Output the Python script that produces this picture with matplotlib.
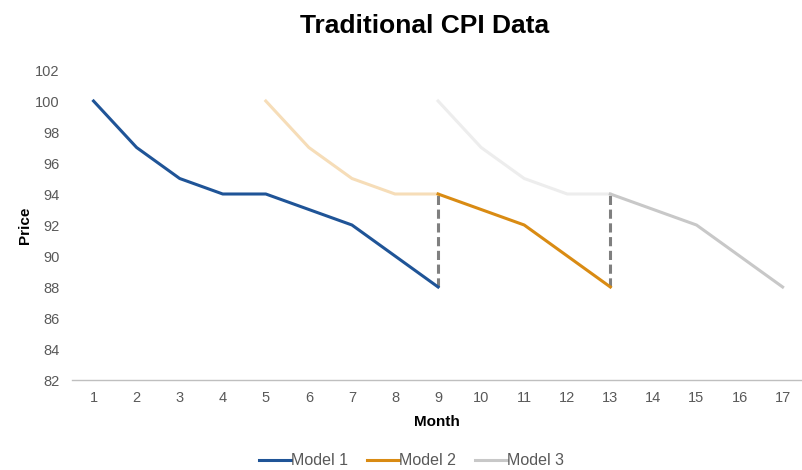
import matplotlib
matplotlib.use("Agg")
import matplotlib.pyplot as plt

plt.rcParams['font.family'] = ['Liberation Sans', 'DejaVu Sans']

months = list(range(1, 18))
model1_x = [1, 2, 3, 4, 5, 6, 7, 8, 9]
model1_y = [100, 97, 95, 94, 94, 93, 92, 90, 88]
model2_ghost_x = [5, 6, 7, 8, 9]
model2_ghost_y = [100, 97, 95, 94, 94]
model2_x = [9, 10, 11, 12, 13]
model2_y = [94, 93, 92, 90, 88]
model3_ghost_x = [9, 10, 11, 12, 13]
model3_ghost_y = [100, 97, 95, 94, 94]
model3_x = [13, 14, 15, 16, 17]
model3_y = [94, 93, 92, 90, 88]
drop_x = [9, 13]
drop_top = [94, 94]
drop_bottom = [88, 88]
yticks = list(range(82, 103, 2))

fig = plt.figure(figsize=(8.03, 4.70), dpi=100)
ax = fig.add_axes([72/803, 90/470, 730/803, 310/470])

c1 = '#1F5497'
c2 = '#D98B13'
c3 = '#C8C8C8'
ax.plot(model2_ghost_x, model2_ghost_y, color='#F6DDB8', lw=2.2, zorder=2)
ax.plot(model3_ghost_x, model3_ghost_y, color='#EDEDED', lw=2.2, zorder=2)
for x, t, b in zip(drop_x, drop_top, drop_bottom):
    ax.plot([x, x], [b, t], color='#7F7F7F', lw=2.2, ls=(0, (3, 1.5)), zorder=3)
l1, = ax.plot(model1_x, model1_y, color=c1, lw=2.2, zorder=4, label='Model 1')
l2, = ax.plot(model2_x, model2_y, color=c2, lw=2.2, zorder=4, label='Model 2')
l3, = ax.plot(model3_x, model3_y, color=c3, lw=2.2, zorder=4, label='Model 3')

ax.set_xlim(0.5, 17.45)
ax.set_ylim(82, 102)
ax.set_xticks(months)
ax.set_yticks(yticks)
ax.tick_params(axis='both', length=0, labelsize=10.5, colors='#595959', pad=8)
ax.tick_params(axis='y', pad=9)
for s in ['top', 'right', 'left']:
    ax.spines[s].set_visible(False)
ax.spines['bottom'].set_color('#BFBFBF')
ax.spines['bottom'].set_linewidth(1)

ax.set_xlabel('Month', fontsize=11, fontweight='bold', color='black', labelpad=7)
ax.set_ylabel('Price', fontsize=11, fontweight='bold', color='black', labelpad=2)
fig.text(0.529, 0.945, 'Traditional CPI Data', ha='center', va='center',
         fontsize=19, fontweight='bold')

fig.legend(handles=[l1, l2, l3], loc='center', bbox_to_anchor=(0.512, 0.02),
           ncol=3, frameon=False, fontsize=11.5, handlelength=2.0,
           handletextpad=0.0, columnspacing=1.2, labelcolor='#595959')

fig.savefig('out.png', dpi=100)
